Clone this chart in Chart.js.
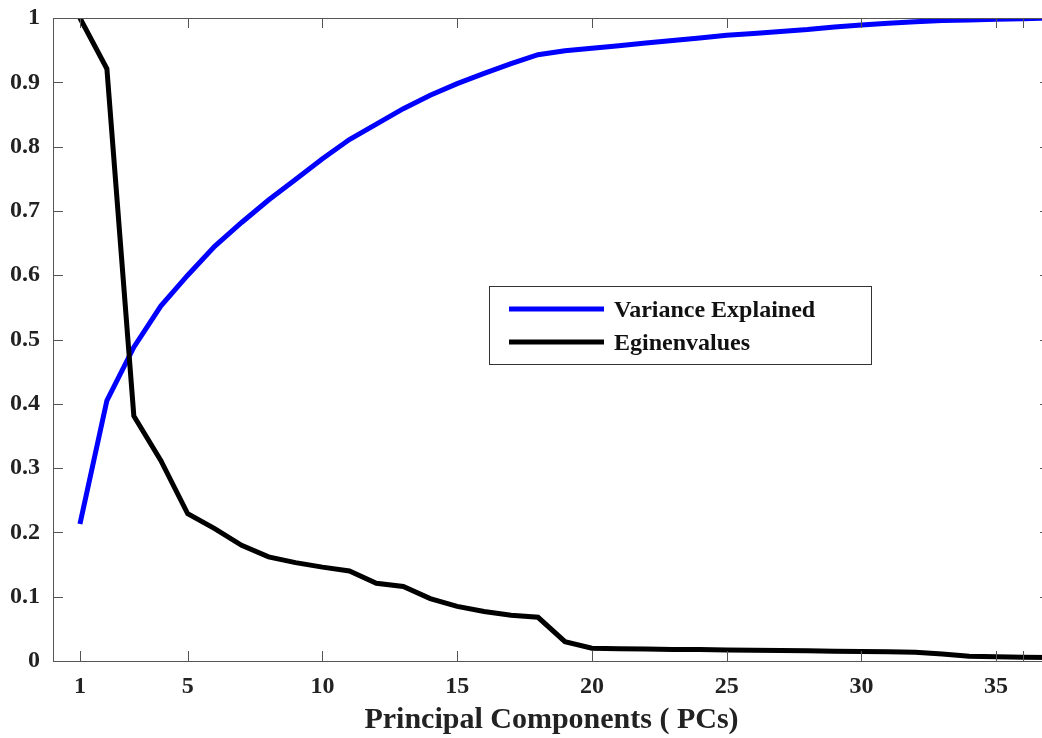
<!DOCTYPE html>
<html>
<head>
<meta charset="utf-8">
<script src="https://cdn.jsdelivr.net/npm/chart.js@4.4.1/dist/chart.umd.min.js"></script>
<style>
  html, body { margin: 0; padding: 0; background: #fff; overflow: hidden; }
  #wrap { width: 1060px; height: 738px; }
</style>
</head>
<body>
<div id="wrap"><canvas id="pca" width="1060" height="738"></canvas></div>
<script>
const pcs = [1, 2, 3, 4, 5, 6, 7, 8, 9, 10, 11, 12, 13, 14, 15, 16, 17, 18, 19, 20,
             21, 22, 23, 24, 25, 26, 27, 28, 29, 30, 31, 32, 33, 34, 35, 36, 37];
const varianceExplained = [0.213, 0.405, 0.488, 0.552, 0.600, 0.645, 0.682, 0.717, 0.749, 0.781,
                           0.811, 0.835, 0.859, 0.880, 0.898, 0.914, 0.929, 0.943, 0.949, 0.953,
                           0.957, 0.961, 0.965, 0.969, 0.973, 0.976, 0.979, 0.982, 0.986, 0.989,
                           0.992, 0.994, 0.996, 0.997, 0.998, 0.999, 1.0];
const eigenvalues = [1.0, 0.921, 0.381, 0.312, 0.229, 0.206, 0.180, 0.162, 0.153, 0.146,
                     0.140, 0.121, 0.116, 0.097, 0.085, 0.077, 0.071, 0.068, 0.030, 0.020,
                     0.019, 0.0185, 0.018, 0.0178, 0.0172, 0.0168, 0.0164, 0.016, 0.0153, 0.0147,
                     0.0142, 0.0137, 0.011, 0.0075, 0.0065, 0.006, 0.0055];

const xTickValues = [1, 5, 10, 15, 20, 25, 30, 35, 36];
const xTickLabels = ['1', '5', '10', '15', '20', '25', '30', '35', ''];
const yTickValues = [0, 0.1, 0.2, 0.3, 0.4, 0.5, 0.6, 0.7, 0.8, 0.9, 1];
const yTickLabels = ['0', '0.1', '0.2', '0.3', '0.4', '0.5', '0.6', '0.7', '0.8', '0.9', '1'];

const seriesNames = ['Variance Explained', 'Eginenvalues'];
const seriesColors = ['#0000ff', '#000000'];

const serif = "'Liberation Serif', 'Times New Roman', serif";
const axisColor = '#555';
const textColor = '#222';

// box round the axes with short inward ticks on all four sides, plus the legend
const boxPlugin = {
  id: 'box',
  afterDatasetsDraw(chart) {
    const { ctx, chartArea: a, scales } = chart;
    const len = 10;
    ctx.save();
    ctx.strokeStyle = axisColor;
    ctx.lineWidth = 1;
    ctx.strokeRect(a.left + 0.5, a.top + 0.5, a.right - a.left, a.bottom - a.top);
    ctx.beginPath();
    xTickValues.forEach(v => {
      const px = Math.round(scales.x.getPixelForValue(v)) + 0.5;
      ctx.moveTo(px, a.bottom); ctx.lineTo(px, a.bottom - len);
      ctx.moveTo(px, a.top); ctx.lineTo(px, a.top + len);
    });
    yTickValues.forEach(v => {
      const py = Math.round(scales.y.getPixelForValue(v)) + 0.5;
      ctx.moveTo(a.left, py); ctx.lineTo(a.left + len, py);
      ctx.moveTo(a.right, py); ctx.lineTo(a.right - len, py);
    });
    ctx.stroke();
    ctx.restore();
  },
  afterDraw(chart) {
    const ctx = chart.ctx;
    const bx = 489, by = 286, bw = 382, bh = 78;
    ctx.save();
    ctx.fillStyle = '#fff';
    ctx.fillRect(bx, by, bw, bh);
    ctx.strokeStyle = '#333';
    ctx.lineWidth = 1;
    ctx.strokeRect(bx + 0.5, by + 0.5, bw, bh);
    ctx.font = 'bold 24px ' + serif;
    ctx.textBaseline = 'alphabetic';
    ctx.fillStyle = '#111';
    chart.data.datasets.forEach((ds, i) => {
      const ly = 309 + i * 33;
      ctx.strokeStyle = ds.borderColor;
      ctx.lineWidth = 5;
      ctx.beginPath();
      ctx.moveTo(509, ly); ctx.lineTo(604, ly);
      ctx.stroke();
      ctx.fillText(ds.label, 614, ly + 8);
    });
    ctx.restore();
  }
};

new Chart(document.getElementById('pca'), {
  type: 'line',
  data: {
    labels: pcs,
    datasets: [
      {
        label: seriesNames[0],
        data: pcs.map((x, i) => ({ x: x, y: varianceExplained[i] })),
        borderColor: seriesColors[0],
        borderWidth: 5,
        pointRadius: 0,
        tension: 0,
        fill: false,
        clip: 0,
        order: 1
      },
      {
        label: seriesNames[1],
        data: pcs.map((x, i) => ({ x: x, y: eigenvalues[i] })),
        borderColor: seriesColors[1],
        borderWidth: 5,
        pointRadius: 0,
        tension: 0,
        fill: false,
        clip: 0,
        order: 0
      }
    ]
  },
  options: {
    responsive: false,
    animation: false,
    devicePixelRatio: 1,
    layout: { padding: { top: 18, right: 10, left: 0, bottom: 0 } },
    plugins: {
      legend: { display: false },
      tooltip: { enabled: false }
    },
    scales: {
      x: {
        type: 'linear',
        min: 0,
        max: 37,
        grid: { display: false, drawTicks: false },
        border: { display: false },
        afterBuildTicks: s => { s.ticks = xTickValues.map(v => ({ value: v })); },
        afterFit: s => { s.height = 77; s.paddingLeft = 0; s.paddingRight = 0; },
        ticks: {
          padding: 11,
          autoSkip: false,
          maxRotation: 0,
          color: textColor,
          font: { family: serif, size: 24, weight: 'bold' },
          callback: (v, i) => xTickLabels[i]
        },
        title: {
          display: true,
          text: 'Principal Components ( PCs)',
          color: textColor,
          font: { family: serif, size: 30, weight: 'bold' },
          padding: { top: 0, bottom: 0 }
        }
      },
      y: {
        min: 0,
        max: 1,
        grid: { display: false, drawTicks: false },
        border: { display: false },
        afterBuildTicks: s => { s.ticks = yTickValues.map(v => ({ value: v })); },
        afterFit: s => { s.width = 53; s.paddingTop = 0; s.paddingBottom = 0; },
        ticks: {
          padding: 13,
          autoSkip: false,
          color: textColor,
          font: { family: serif, size: 24, weight: 'bold' },
          callback: (v, i) => yTickLabels[i]
        }
      }
    }
  },
  plugins: [boxPlugin]
});
</script>
</body>
</html>
